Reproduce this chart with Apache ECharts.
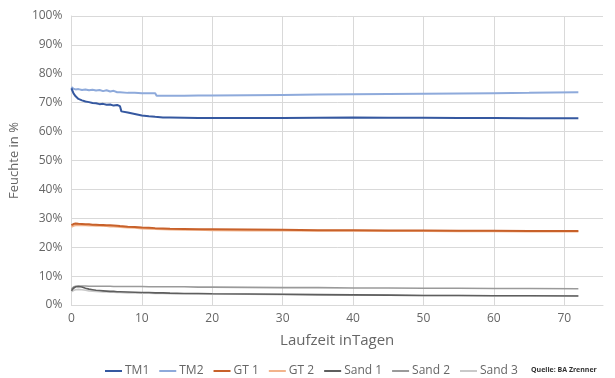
<!DOCTYPE html>
<html><head><meta charset="utf-8">
<script src="https://cdn.jsdelivr.net/npm/echarts@6/dist/echarts.min.js"></script>
<style>html,body{margin:0;padding:0;background:#fff}#c{width:615px;height:378px}</style>
</head><body><div id="c"></div>
<script>
var days = [0, 0.3, 0.6, 1, 1.5, 2, 2.5, 3, 3.5, 4, 4.5, 5, 5.5, 6, 6.5, 6.9, 7.1, 8, 9, 10, 11, 11.9, 12.1, 13, 14, 16, 18, 20, 25, 30, 35, 40, 45, 50, 55, 60, 65, 72];
var tm1 = [75, 73.2, 72.2, 71.3, 70.8, 70.4, 70.2, 69.9, 69.8, 69.5, 69.6, 69.3, 69.4, 69.0, 69.2, 68.8, 67.0, 66.6, 66.1, 65.6, 65.3, 65.1, 65.0, 64.9, 64.9, 64.8, 64.7, 64.7, 64.7, 64.7, 64.8, 64.9, 64.8, 64.8, 64.7, 64.7, 64.6, 64.6];
var tm2 = [75.4, 74.8, 74.6, 74.7, 74.4, 74.6, 74.3, 74.5, 74.2, 74.4, 74.0, 74.3, 73.9, 74.1, 73.6, 73.6, 73.5, 73.4, 73.4, 73.3, 73.3, 73.3, 72.4, 72.4, 72.4, 72.4, 72.5, 72.5, 72.6, 72.7, 72.8, 72.9, 73.0, 73.1, 73.2, 73.3, 73.4, 73.6];
var gt1 = [27.6, 28.0, 28.2, 28.1, 28.0, 27.9, 27.9, 27.8, 27.8, 27.7, 27.7, 27.6, 27.6, 27.5, 27.4, 27.3, 27.2, 27.1, 27.0, 26.8, 26.7, 26.6, 26.6, 26.5, 26.4, 26.3, 26.2, 26.2, 26.1, 26.0, 25.9, 25.9, 25.8, 25.8, 25.7, 25.7, 25.6, 25.6];
var gt2 = [27.0, 27.4, 27.6, 27.7, 27.6, 27.6, 27.5, 27.5, 27.4, 27.4, 27.3, 27.3, 27.2, 27.2, 27.1, 27.0, 26.9, 26.8, 26.7, 26.5, 26.4, 26.3, 26.3, 26.2, 26.1, 26.0, 26.0, 25.9, 25.8, 25.8, 25.7, 25.7, 25.6, 25.6, 25.5, 25.5, 25.4, 25.4];
var sand1 = [4.9, 5.8, 6.3, 6.4, 6.2, 5.8, 5.5, 5.3, 5.1, 5.0, 4.9, 4.8, 4.7, 4.7, 4.6, 4.6, 4.5, 4.5, 4.4, 4.3, 4.3, 4.2, 4.2, 4.2, 4.1, 4.0, 4.0, 3.9, 3.8, 3.7, 3.6, 3.5, 3.4, 3.3, 3.3, 3.2, 3.2, 3.1];
var sand2 = [5.5, 6.2, 6.5, 6.6, 6.6, 6.6, 6.5, 6.5, 6.5, 6.5, 6.5, 6.5, 6.5, 6.4, 6.4, 6.4, 6.4, 6.4, 6.4, 6.4, 6.3, 6.3, 6.3, 6.3, 6.3, 6.3, 6.2, 6.2, 6.1, 6.0, 6.0, 5.9, 5.9, 5.8, 5.8, 5.7, 5.7, 5.6];
var sand3 = [4.6, 5.0, 5.3, 5.4, 5.3, 5.1, 4.9, 4.8, 4.7, 4.6, 4.5, 4.5, 4.4, 4.4, 4.3, 4.3, 4.3, 4.2, 4.2, 4.1, 4.1, 4.0, 4.0, 4.0, 3.9, 3.9, 3.8, 3.8, 3.7, 3.6, 3.5, 3.4, 3.4, 3.3, 3.3, 3.2, 3.2, 3.2];
var xTicks = [10, 20, 30, 40, 50, 60, 70];
var seriesNames = ['TM1', 'TM2', 'GT 1', 'GT 2', 'Sand 1', 'Sand 2', 'Sand 3'];
var seriesValues = [tm1, tm2, gt1, gt2, sand1, sand2, sand3];
var colors = ['#3558a0', '#8eaadb', '#c8612a', '#f2b48c', '#5e5e5e', '#9a9a9a', '#c9c9c9'];

function pairs(vals) { return days.map(function (d, i) { return [d, vals[i]]; }); }

var series = [];
seriesNames.forEach(function (n, i) {
  series.push({
    name: n, type: 'line', data: pairs(seriesValues[i]), showSymbol: false, symbol: 'none',
    z: 10 - i,
    lineStyle: { color: colors[i], width: i >= 4 ? 1.6 : 2 }, itemStyle: { color: colors[i] }
  });
});
series.push({
  name: '_grid', type: 'line', data: [], silent: true,
  markLine: {
    silent: true, symbol: 'none', label: { show: false },
    lineStyle: { color: '#d9d9d9', width: 1, type: 'solid' },
    data: xTicks.map(function (t) { return { xAxis: t }; })
  }, z: 1
});

var chart = echarts.init(document.getElementById('c'));
chart.setOption({
  animation: false,
  backgroundColor: '#fff',
  grid: { left: 71, right: 12, top: 16, bottom: 73 },
  xAxis: {
    type: 'value', min: 0, max: 75.5, interval: 10,
    axisLine: { show: true, lineStyle: { color: '#d9d9d9' } },
    axisTick: { show: false },
    splitLine: { show: false },
    axisLabel: { color: '#666', fontSize: 12, fontFamily: 'Open Sans', margin: 8,
      formatter: function (v) { return v % 10 === 0 ? String(v) : ''; } },
    name: 'Laufzeit inTagen', nameLocation: 'middle', nameGap: 28,
    nameTextStyle: { color: '#666', fontSize: 15, fontFamily: 'Open Sans' }
  },
  yAxis: {
    type: 'value', min: 0, max: 100, interval: 10,
    axisLine: { show: true, lineStyle: { color: '#d9d9d9' } },
    axisTick: { show: false },
    splitLine: { lineStyle: { color: '#d9d9d9' } },
    axisLabel: { color: '#666', fontSize: 12, fontFamily: 'Open Sans', margin: 9, formatter: '{value}%' },
    name: 'Feuchte in %', nameLocation: 'middle', nameGap: 46,
    nameTextStyle: { color: '#666', fontSize: 13, fontFamily: 'Open Sans' }
  },
  legend: {
    data: seriesNames, left: 100, top: 360, itemWidth: 17, itemHeight: 2, itemGap: 10,
    icon: 'rect', textStyle: { color: '#666', fontSize: 12, fontFamily: 'Open Sans', padding: [0, 0, 0, -2] }
  },
  graphic: [{ type: 'text', left: 531, top: 366,
    style: { text: 'Quelle: BA Zrenner', fill: '#333', fontSize: 7, fontWeight: 'bold', fontFamily: 'Open Sans' } }],
  series: series
});
</script></body></html>
